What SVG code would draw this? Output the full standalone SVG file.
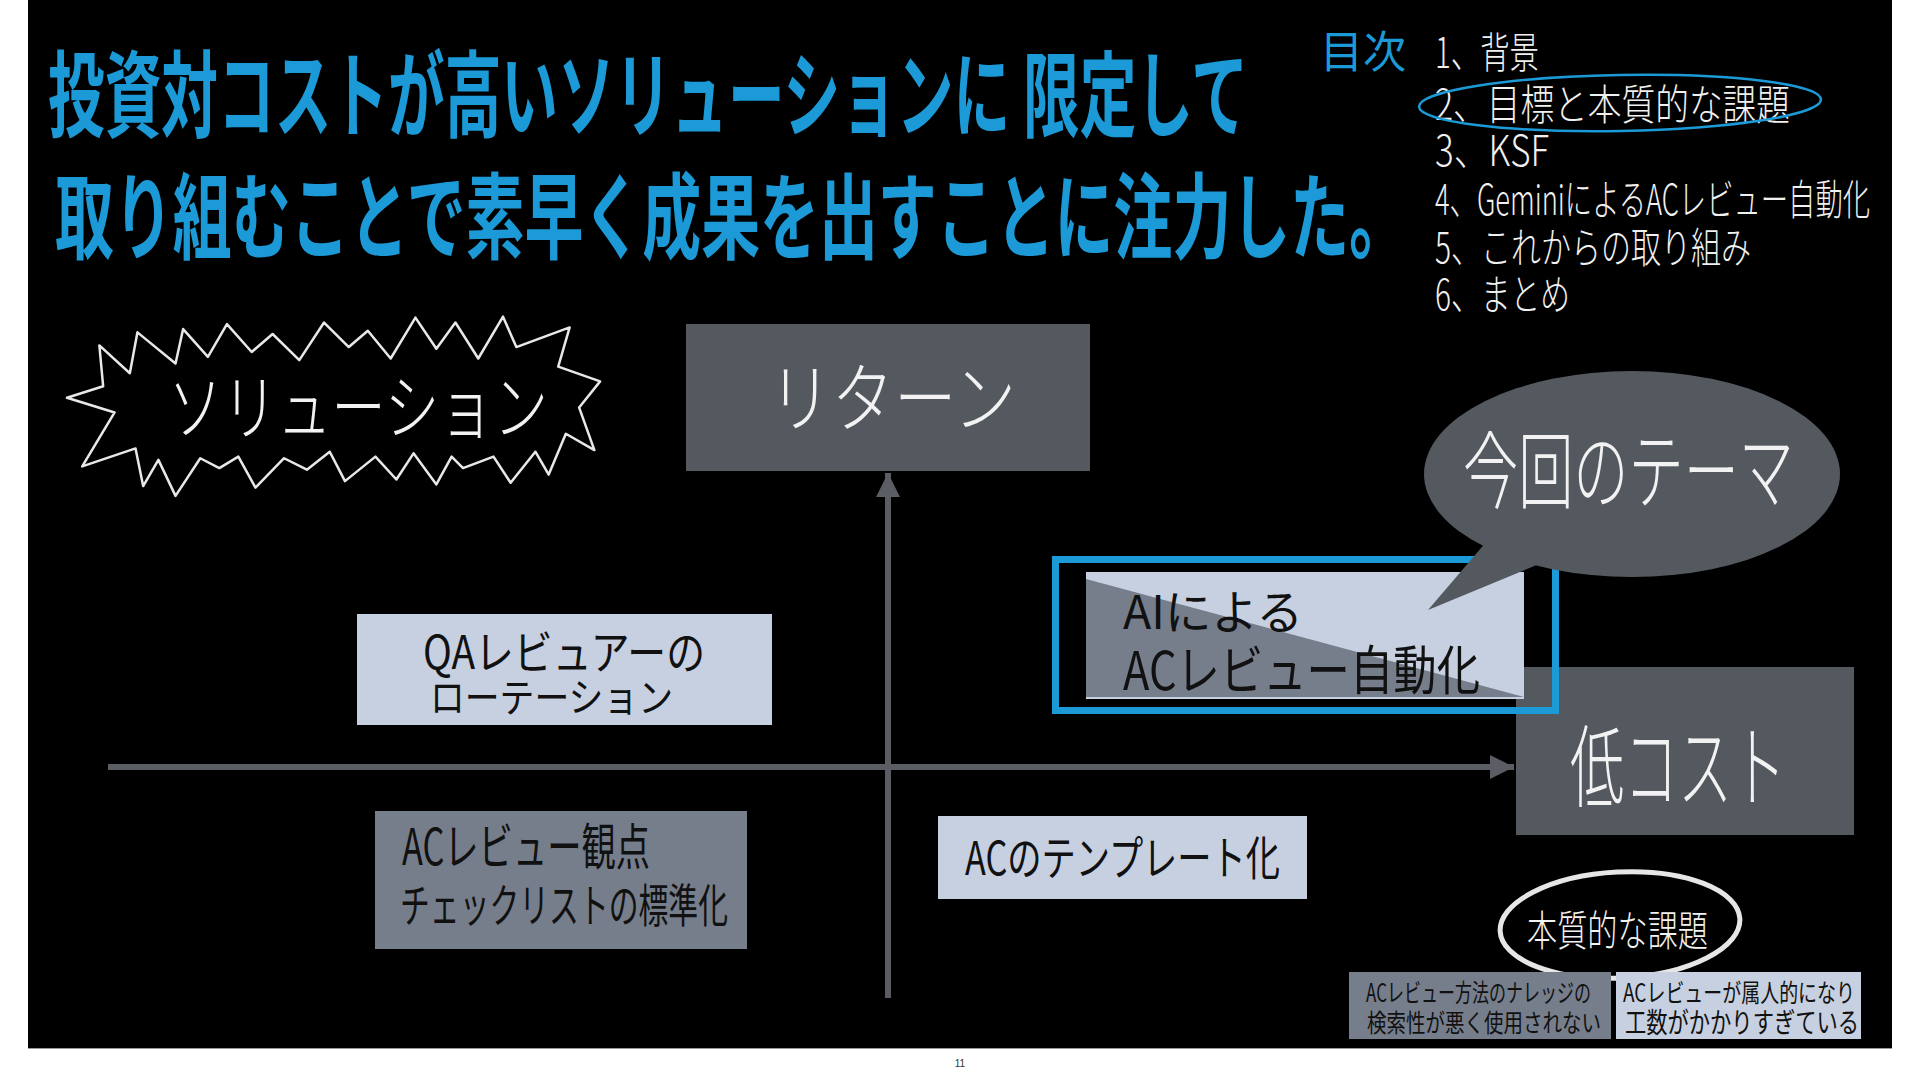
<svg xmlns="http://www.w3.org/2000/svg" width="1920" height="1080" viewBox="0 0 1920 1080">
<defs>
<style>
text{font-family:"Noto Sans CJK JP","Noto Sans",sans-serif;}
.blue{fill:#1b9ad7;font-weight:700;}
.toc{fill:#f0f0f0;font-weight:300;}
.wt{fill:#f2f2f2;font-weight:300;}
.bk{fill:#111;font-weight:400;}
.gray{fill:#54585f;}
.light{fill:#c6d0e0;}
.mid{fill:#767e8c;}
.axis{stroke:#5a5e64;stroke-width:6;fill:none;}
</style>
<marker id="arr" viewBox="0 0 10 10" refX="10" refY="5" markerWidth="4" markerHeight="4" orient="auto" markerUnits="strokeWidth">
<path d="M0,0 L10,5 L0,10 Z" fill="#5a5e64"/>
</marker>
</defs>
<rect x="0" y="0" width="1920" height="1080" fill="#ffffff"/>
<rect x="28" y="0" width="1864" height="1048" fill="#000000"/>
<line x1="28" y1="1048.5" x2="1892" y2="1048.5" stroke="#9a9a9a" stroke-width="1"/>
<text x="960" y="1067" font-size="10" fill="#333" text-anchor="middle" style="font-family:'Liberation Sans',sans-serif">11</text>

<g id="title">
<text class="blue" transform="translate(48,130) scale(1,1.66)" font-size="56.5" textLength="1200" lengthAdjust="spacingAndGlyphs">投資対コストが高いソリューションに 限定して</text>
<text class="blue" transform="translate(55,252) scale(1,1.6)" font-size="58.8" textLength="1353" lengthAdjust="spacingAndGlyphs">取り組むことで素早く成果を出すことに注力した。</text>
</g>

<g id="toc">
<text x="1320" y="68" font-size="44" fill="#1b9ad7" textLength="86" lengthAdjust="spacingAndGlyphs">目次</text>
<text class="toc" transform="translate(1435,68) scale(1,1.43)" font-size="29.3" textLength="104" lengthAdjust="spacingAndGlyphs">1、背景</text>
<text class="toc" transform="translate(1435,120) scale(1,1.25)" font-size="33.6" textLength="355" lengthAdjust="spacingAndGlyphs">2、目標と本質的な課題</text>
<text class="toc" transform="translate(1435,166) scale(1,1.19)" font-size="35.4" textLength="114" lengthAdjust="spacingAndGlyphs">3、KSF</text>
<text class="toc" transform="translate(1435,215) scale(1,1.54)" font-size="27.3" textLength="435" lengthAdjust="spacingAndGlyphs">4、GeminiによるACレビュー自動化</text>
<text class="toc" transform="translate(1435,263) scale(1,1.4)" font-size="30" textLength="316" lengthAdjust="spacingAndGlyphs">5、これからの取り組み</text>
<text class="toc" transform="translate(1435,310) scale(1,1.41)" font-size="29.7" textLength="135" lengthAdjust="spacingAndGlyphs">6、まとめ</text>
<ellipse cx="1620" cy="103" rx="201" ry="28" fill="none" stroke="#1b9ad7" stroke-width="2.5" transform="rotate(-1 1620 103)"/>
</g>

<g id="solution">
<path transform="matrix(0.3808 0 0 0.327 40.34 302.92)" vector-effect="non-scaling-stroke" fill="none" stroke="#e8e8e8" stroke-width="2.5" stroke-linejoin="round"
d="M70,290 L165,255 L155,130 L235,215 L255,90 L355,185 L375,80 L440,165 L490,65 L555,150 L610,95 L680,175 L745,60 L810,135 L860,85 L920,170 L985,45 L1040,140 L1090,60 L1150,170 L1215,42 L1250,135 L1390,75 L1360,195 L1470,240 L1415,320 L1455,450 L1380,400 L1335,525 L1300,455 L1235,550 L1190,470 L1110,505 L1080,470 L1040,555 L980,460 L935,540 L880,470 L800,545 L760,455 L700,510 L640,475 L565,565 L520,470 L470,505 L420,475 L355,590 L310,480 L270,560 L250,445 L110,500 L195,335 Z"/>
<text class="wt" transform="translate(168,434) scale(1,1.33)" font-size="54.3" textLength="380" lengthAdjust="spacingAndGlyphs">ソリューション</text>
</g>

<g id="connectors">
<line class="axis" x1="888" y1="998" x2="888" y2="473" marker-end="url(#arr)"/>
<line class="axis" x1="108" y1="767" x2="1514" y2="767" marker-end="url(#arr)"/>
</g>

<g id="return">
<rect class="gray" x="686" y="324" width="404" height="147"/>
<text class="wt" transform="translate(769,426) scale(1,1.23)" font-size="61.75" textLength="247" lengthAdjust="spacingAndGlyphs">リターン</text>
</g>

<g id="lowcost">
<rect class="gray" x="1516" y="667" width="338" height="168"/>
<text class="wt" transform="translate(1570,800) scale(1,1.67)" font-size="54" textLength="216" lengthAdjust="spacingAndGlyphs">低コスト</text>
</g>

<g id="qa">
<rect class="light" x="357" y="614" width="415" height="111"/>
<text class="bk" transform="translate(423,669) scale(1,1.19)" font-size="38.6" textLength="282" lengthAdjust="spacingAndGlyphs">QAレビュアーの</text>
<text class="bk" transform="translate(430,712) scale(1,1.15)" font-size="34.7" textLength="243" lengthAdjust="spacingAndGlyphs">ローテーション</text>
</g>

<g id="checklist">
<rect class="mid" x="375" y="811" width="372" height="138"/>
<text class="bk" transform="translate(402,865) scale(1,1.46)" font-size="34.3" textLength="248" lengthAdjust="spacingAndGlyphs">ACレビュー観点</text>
<text class="bk" transform="translate(400,922) scale(1,1.54)" font-size="29.8" textLength="328" lengthAdjust="spacingAndGlyphs">チェックリストの標準化</text>
</g>

<g id="template">
<rect class="light" x="938" y="816" width="369" height="83"/>
<text class="bk" transform="translate(965,875) scale(1,1.35)" font-size="34.2" textLength="315" lengthAdjust="spacingAndGlyphs">ACのテンプレート化</text>
</g>

<g id="ai">
<rect x="1055.5" y="559.5" width="500" height="151" fill="none" stroke="#1b9ad7" stroke-width="7"/>
<rect class="light" x="1086" y="572" width="438" height="127"/>
<polygon class="mid" points="1086,579 1524,697 1086,697"/>
<text class="bk" x="1123" y="629" font-size="47" textLength="180" lengthAdjust="spacingAndGlyphs">AIによる</text>
<text class="bk" transform="translate(1123,690) scale(1,1.24)" font-size="43.4" textLength="357" lengthAdjust="spacingAndGlyphs">ACレビュー自動化</text>
</g>

<g id="theme">
<ellipse class="gray" cx="1632" cy="474" rx="208" ry="103"/>
<polygon class="gray" points="1428,610 1505,520 1585,545"/>
<text class="wt" transform="translate(1463,502) scale(1,1.52)" font-size="55.2" textLength="331" lengthAdjust="spacingAndGlyphs">今回のテーマ</text>
</g>

<g id="issue">
<ellipse cx="1620" cy="925" rx="120" ry="53" fill="none" stroke="#e6e6e6" stroke-width="5" transform="rotate(-3 1620 925)"/>
<text class="wt" transform="translate(1527,946) scale(1,1.39)" font-size="30.2" textLength="181" lengthAdjust="spacingAndGlyphs">本質的な課題</text>
</g>

<g id="issue1">
<rect class="mid" x="1349" y="972" width="262" height="67"/>
<text class="bk" transform="translate(1366,1002) scale(1,1.36)" font-size="18.4" textLength="225" lengthAdjust="spacingAndGlyphs">ACレビュー方法のナレッジの</text>
<text class="bk" transform="translate(1367,1032) scale(1,1.28)" font-size="19.5" textLength="234" lengthAdjust="spacingAndGlyphs">検索性が悪く使用されない</text>
</g>

<g id="issue2">
<rect class="light" x="1616" y="972" width="245" height="67"/>
<text class="bk" transform="translate(1623,1002) scale(1,1.32)" font-size="19" textLength="232" lengthAdjust="spacingAndGlyphs">ACレビューが属人的になり</text>
<text class="bk" transform="translate(1625,1033) scale(1,1.31)" font-size="21.3" textLength="234" lengthAdjust="spacingAndGlyphs">工数がかかりすぎている</text>
</g>
</svg>
